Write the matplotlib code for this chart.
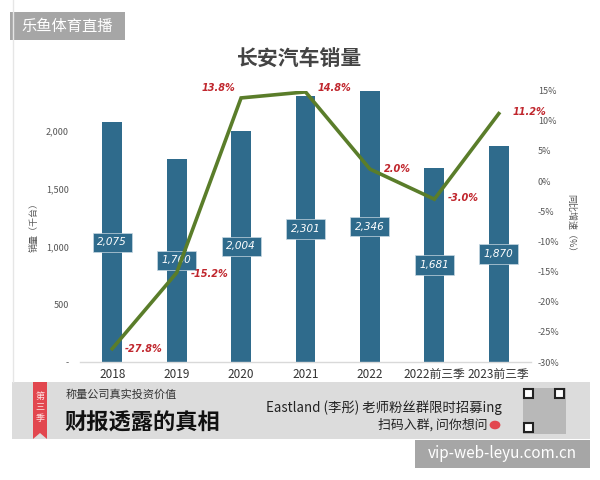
import matplotlib
matplotlib.use('Agg')
import matplotlib.pyplot as plt
from matplotlib.patches import Rectangle, Circle, Polygon
from matplotlib.ticker import FuncFormatter, FixedLocator

plt.rcParams['font.family'] = ['Noto Sans CJK SC', 'DejaVu Sans']

categories = ['2018', '2019', '2020', '2021', '2022', '2022前三季', '2023前三季']
sales = [2075, 1760, 2004, 2301, 2346, 1681, 1870]
growth = [-27.8, -15.2, 13.8, 14.8, 2.0, -3.0, 11.2]
left_ticks = [0, 500, 1000, 1500, 2000]
right_ticks = [15, 10, 5, 0, -5, -10, -15, -20, -25, -30]

W, H = 600, 480
fig = plt.figure(figsize=(6, 4.8), dpi=100)

def fx(px):
    return px / W

def fy(py):
    return 1 - py / H

bar_color = '#2f6b8c'
line_color = '#5a7d2a'
pct_color = '#c0262d'
tick_color = '#555555'

ax = fig.add_axes([fx(80), fy(362), fx(531) - fx(80), fy(90.7) - fy(362)])
xs = list(range(len(categories)))
ax.bar(xs, sales, width=0.31, color=bar_color, zorder=2)
ax.set_xlim(-0.5, len(categories) - 0.5)
ax.set_ylim(0, 2350)
ax.yaxis.set_major_locator(FixedLocator(left_ticks))
ax.yaxis.set_major_formatter(FuncFormatter(lambda v, p: '-' if v == 0 else f'{int(v):,}'))
ax.tick_params(axis='y', length=0, pad=8, labelsize=6.5, labelcolor=tick_color)
ax.set_xticks(xs)
ax.set_xticklabels(categories)
ax.tick_params(axis='x', length=0, pad=4, labelsize=8.5, labelcolor='#333333')
for s in ['top', 'left', 'right']:
    ax.spines[s].set_visible(False)
ax.spines['bottom'].set_color('#d9d9d9')
ax.spines['bottom'].set_linewidth(1)

for xi, v in zip(xs, sales):
    ax.text(xi, v / 2, f'{v:,}', ha='center', va='center', color='white',
            style='italic', fontsize=7.5, family='DejaVu Sans', zorder=4,
            bbox=dict(boxstyle='square,pad=0.45', fc=bar_color, ec='#c8d8e2', lw=0.5))

ax2 = ax.twinx()
ax2.set_ylim(-30, 15)
ax2.yaxis.set_major_locator(FixedLocator(right_ticks))
ax2.yaxis.set_major_formatter(FuncFormatter(lambda v, p: f'{int(v)}%'))
ax2.tick_params(axis='y', length=0, pad=5, labelsize=6.5, labelcolor=tick_color)
for s in ['top', 'left', 'right', 'bottom']:
    ax2.spines[s].set_visible(False)
ax2.plot(xs, growth, color=line_color, lw=2.6, zorder=3, solid_joinstyle='miter')

offsets = [(9, 0, 'left'), (10, -1, 'left'), (-4, 7, 'right'), (9, 3, 'left'),
           (10, 0, 'left'), (10, 1, 'left'), (10, 1, 'left')]
for xi, g, (dx, dy, ha) in zip(xs, growth, offsets):
    ax2.annotate(f'{g:.1f}%', (xi, g), xytext=(dx, dy), textcoords='offset points',
                 ha=ha, va='center', color=pct_color, style='italic',
                 fontsize=7, family='DejaVu Sans', weight='bold')

fig.text(0.5, fy(58), '长安汽车销量', ha='center', va='center', fontsize=15,
         weight='bold', color='#444444')
fig.text(fx(34), fy(225), '销量（千台）', rotation=90, ha='center', va='center',
         fontsize=6.5, color=tick_color)
fig.text(fx(571), fy(225), '同比增速（%）', rotation=-90, ha='center', va='center',
         fontsize=6.5, color=tick_color)

# frame line on left
fig.add_artist(plt.Line2D([fx(13), fx(13)], [fy(0), fy(382)], color='#e6e6e6', lw=1))

# banner
fig.add_artist(Rectangle((fx(12), fy(439)), fx(590) - fx(12), fy(382) - fy(439),
                         fc='#dcdcdc', ec='none', transform=fig.transFigure))
fig.add_artist(Polygon([(fx(33), fy(382)), (fx(47), fy(382)), (fx(47), fy(439)),
                        (fx(40), fy(433)), (fx(33), fy(439))],
                       closed=True, fc='#e2474f', ec='none', transform=fig.transFigure))
for i, ch in enumerate('第三季'):
    fig.text(fx(40), fy(396 + i * 11), ch, ha='center', va='center', fontsize=6.5,
             color='#ffe0e0')
fig.text(fx(66), fy(395), '称量公司真实投资价值', ha='left', va='center', fontsize=8,
         color='#333333')
fig.text(fx(64), fy(423), '财报透露的真相', ha='left', va='center', fontsize=16,
         color='#111111', weight='heavy')
fig.text(fx(266), fy(408), 'Eastland (李彤) 老师粉丝群限时招募ing', ha='left',
         va='center', fontsize=9.6, color='#222222')
fig.text(fx(487), fy(425), '扫码入群, 问你想问', ha='right', va='center', fontsize=9.3,
         color='#222222')
fig.add_artist(Circle((fx(495), fy(425)), 0.009, fc='#e2474f', ec='none',
                      transform=fig.transFigure))
# QR code stand-in
fig.add_artist(Rectangle((fx(523), fy(434)), fx(43), fy(388) - fy(434),
                         fc='#b8b8b8', ec='none', transform=fig.transFigure))
for (qx, qy) in [(524, 389), (555, 389), (524, 423)]:
    fig.add_artist(Rectangle((fx(qx), fy(qy + 9)), fx(9), fy(qy) - fy(qy + 9),
                             fc='white', ec='#222222', lw=1.5, transform=fig.transFigure))

# watermark boxes
fig.add_artist(Rectangle((fx(10), fy(40)), fx(115), fy(12) - fy(40),
                         fc='#a6a6a6', ec='none', transform=fig.transFigure))
fig.text(fx(67), fy(26), '乐鱼体育直播', ha='center', va='center', fontsize=11,
         color='white')
fig.add_artist(Rectangle((fx(415), fy(468)), fx(175), fy(440) - fy(468),
                         fc='#a6a6a6', ec='none', transform=fig.transFigure))
fig.text(fx(502), fy(454), 'vip-web-leyu.com.cn', ha='center', va='center',
         fontsize=11, color='white')

fig.savefig('out.png', dpi=100)
